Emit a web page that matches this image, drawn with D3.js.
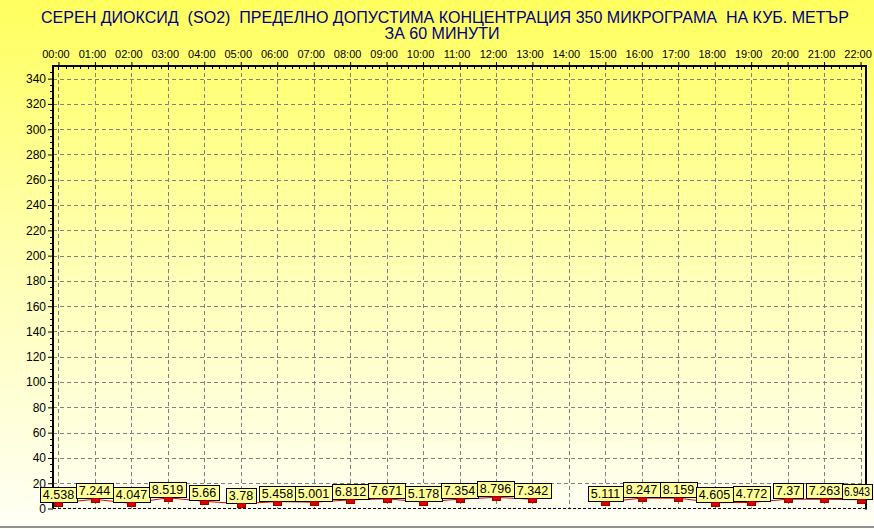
<!DOCTYPE html>
<html><head><meta charset="utf-8">
<script src="https://cdn.jsdelivr.net/npm/d3@7"></script>
<style>html,body{margin:0;padding:0;overflow:hidden;background:#fff}</style>
</head><body>
<script>
const hours = ["00:00","01:00","02:00","03:00","04:00","05:00","06:00","07:00","08:00","09:00","10:00","11:00","12:00","13:00","14:00","15:00","16:00","17:00","18:00","19:00","20:00","21:00","22:00"];
const so2 = [4.538,7.244,4.047,8.519,5.66,3.78,5.458,5.001,6.812,7.671,5.178,7.354,8.796,7.342,null,5.111,8.247,8.159,4.605,4.772,7.37,7.263,6.943];
const yTicks = [0,20,40,60,80,100,120,140,160,180,200,220,240,260,280,300,320,340];
const titleLines = ["СЕРЕН ДИОКСИД  (SO2)  ПРЕДЕЛНО ДОПУСТИМА КОНЦЕНТРАЦИЯ 350 МИКРОГРАМА  НА КУБ. МЕТЪР","ЗА 60 МИНУТИ"];

const W = 874, H = 529;
const L = 53, R = 866, T = 66, B = 508.5;
const svg = d3.select("body").append("svg").attr("width", W).attr("height", H)
  .style("font-family", "Arial, 'Liberation Sans', sans-serif");

const defs = svg.append("defs");
const g = defs.append("linearGradient").attr("id","bg").attr("x1",0).attr("y1",0).attr("x2",0).attr("y2",1);
g.append("stop").attr("offset","0%").attr("stop-color","#ffff5e");
g.append("stop").attr("offset","50%").attr("stop-color","#ffffb4");
g.append("stop").attr("offset","100%").attr("stop-color","#fffff6");
svg.append("rect").attr("width",W).attr("height",H).attr("fill","url(#bg)");

const x = d3.scaleLinear().domain([-0.15, 22.15]).range([L, R]);
const y = d3.scaleLinear().domain([0, 350]).range([B, T]);

// title
svg.append("text").attr("x", 445).attr("y", 23).attr("text-anchor","middle")
  .attr("fill","#000080").attr("font-size",16).style("white-space","pre")
  .attr("textLength", 808).attr("lengthAdjust","spacingAndGlyphs").text(titleLines[0]);
svg.append("text").attr("x", 442).attr("y", 39).attr("text-anchor","middle")
  .attr("fill","#000080").attr("font-size",16).text(titleLines[1]);

// grid
const grid = svg.append("g").attr("stroke","#808080").attr("stroke-dasharray","4,3").attr("stroke-width",1);
grid.selectAll("line.v").data(hours).join("line")
  .attr("x1",(d,i)=>Math.round(x(i))+0.5).attr("x2",(d,i)=>Math.round(x(i))+0.5)
  .attr("y1",T).attr("y2",B);
grid.selectAll("line.h").data(yTicks.filter(d=>d>0)).join("line")
  .attr("x1",L).attr("x2",R)
  .attr("y1",d=>Math.round(y(d))+0.5).attr("y2",d=>Math.round(y(d))+0.5);

// bottom dashed axis line
svg.append("line").attr("x1",L).attr("x2",R).attr("y1",Math.round(B)-0.5).attr("y2",Math.round(B)-0.5)
  .attr("stroke","#000").attr("stroke-dasharray","3,2");

// top axis
const topAxis = d3.axisTop(x).tickValues(d3.range(0,23)).tickSize(4).tickFormat(i=>hours[i]);
const ta = svg.append("g").attr("transform",`translate(0,${T})`).call(topAxis);
ta.select(".domain").remove();
ta.selectAll(".tick text").attr("font-size",11).attr("fill","#000").attr("font-family","Arial, 'Liberation Sans', sans-serif")
  .attr("dx",-3).attr("y",-8);
// minor ticks on top
const minor = [];
for (let h = 0; h < 22; h++) for (let k = 1; k < 5; k++) minor.push(h + k/5);
svg.append("g").selectAll("line").data(minor).join("line")
  .attr("x1",d=>Math.round(x(d))+0.5).attr("x2",d=>Math.round(x(d))+0.5)
  .attr("y1",T).attr("y2",T+3).attr("stroke","#000");
svg.append("g").selectAll("line").data(d3.range(0,23)).join("line")
  .attr("x1",d=>Math.round(x(d))+0.5).attr("x2",d=>Math.round(x(d))+0.5)
  .attr("y1",T).attr("y2",T+4).attr("stroke","#000");

// left axis
const leftAxis = d3.axisLeft(y).tickValues(yTicks).tickSize(5).tickFormat(d3.format("d"));
const la = svg.append("g").attr("transform",`translate(${L},0)`).call(leftAxis);
la.select(".domain").remove();
la.selectAll(".tick text").attr("font-size",12).attr("fill","#000").attr("font-family","Arial, 'Liberation Sans', sans-serif").attr("x",-7);
svg.append("g").selectAll("line").data(d3.range(5,350,5).filter(d=>d%20!==0)).join("line")
  .attr("x1",L-3).attr("x2",L).attr("y1",d=>Math.round(y(d))+0.5).attr("y2",d=>Math.round(y(d))+0.5)
  .attr("stroke","#000");

// frame (left, top, right)
svg.append("path").attr("d",`M${L},${B}V${T}H${R}V${B+1}`)
  .attr("fill","none").attr("stroke","#000").attr("stroke-width",2);

// series line
const pts = so2.map((v,i)=>({i, v}));
const line = d3.line().defined(d=>d.v!==null).x(d=>x(d.i)).y(d=>y(d.v));
svg.append("path").datum(pts).attr("d",line).attr("fill","none").attr("stroke","#e00000").attr("stroke-width",1);

// labels
const valid = pts.filter(d=>d.v!==null);
const lab = svg.append("g").selectAll("g").data(valid).join("g");
lab.each(function(d){
  const gg = d3.select(this);
  const cy = y(d.v);
  const t = gg.append("text").attr("font-size",12.5).attr("fill","#000").attr("text-anchor","middle")
    .attr("y",cy-4).text(String(d.v));
  const tw = t.node().getComputedTextLength();
  let w = Math.round(tw + 6);
  const bx = Math.round(x(d.i) - w/2);
  if (bx + w > W - 2) {
    w = W - 2 - bx;
    t.attr("textLength", w - 4).attr("lengthAdjust","spacingAndGlyphs");
  }
  t.attr("x", bx + w/2);
  gg.insert("rect","text").attr("x",bx+0.5).attr("y",Math.round(cy-16)+0.5)
    .attr("width",w).attr("height",15).attr("fill","#ffff99").attr("stroke","#000");
});
// markers
svg.append("g").selectAll("rect").data(valid).join("rect")
  .attr("x",d=>Math.round(x(d.i))-3.5).attr("y",d=>Math.round(y(d.v))-0.5)
  .attr("width",8).attr("height",4).attr("fill","#dd0000").attr("stroke","#990000").attr("stroke-width",1);

// bottom gray border
svg.append("line").attr("x1",0).attr("x2",W).attr("y1",527).attr("y2",527).attr("stroke","#909090").attr("stroke-width",2);
</script>
</body></html>
